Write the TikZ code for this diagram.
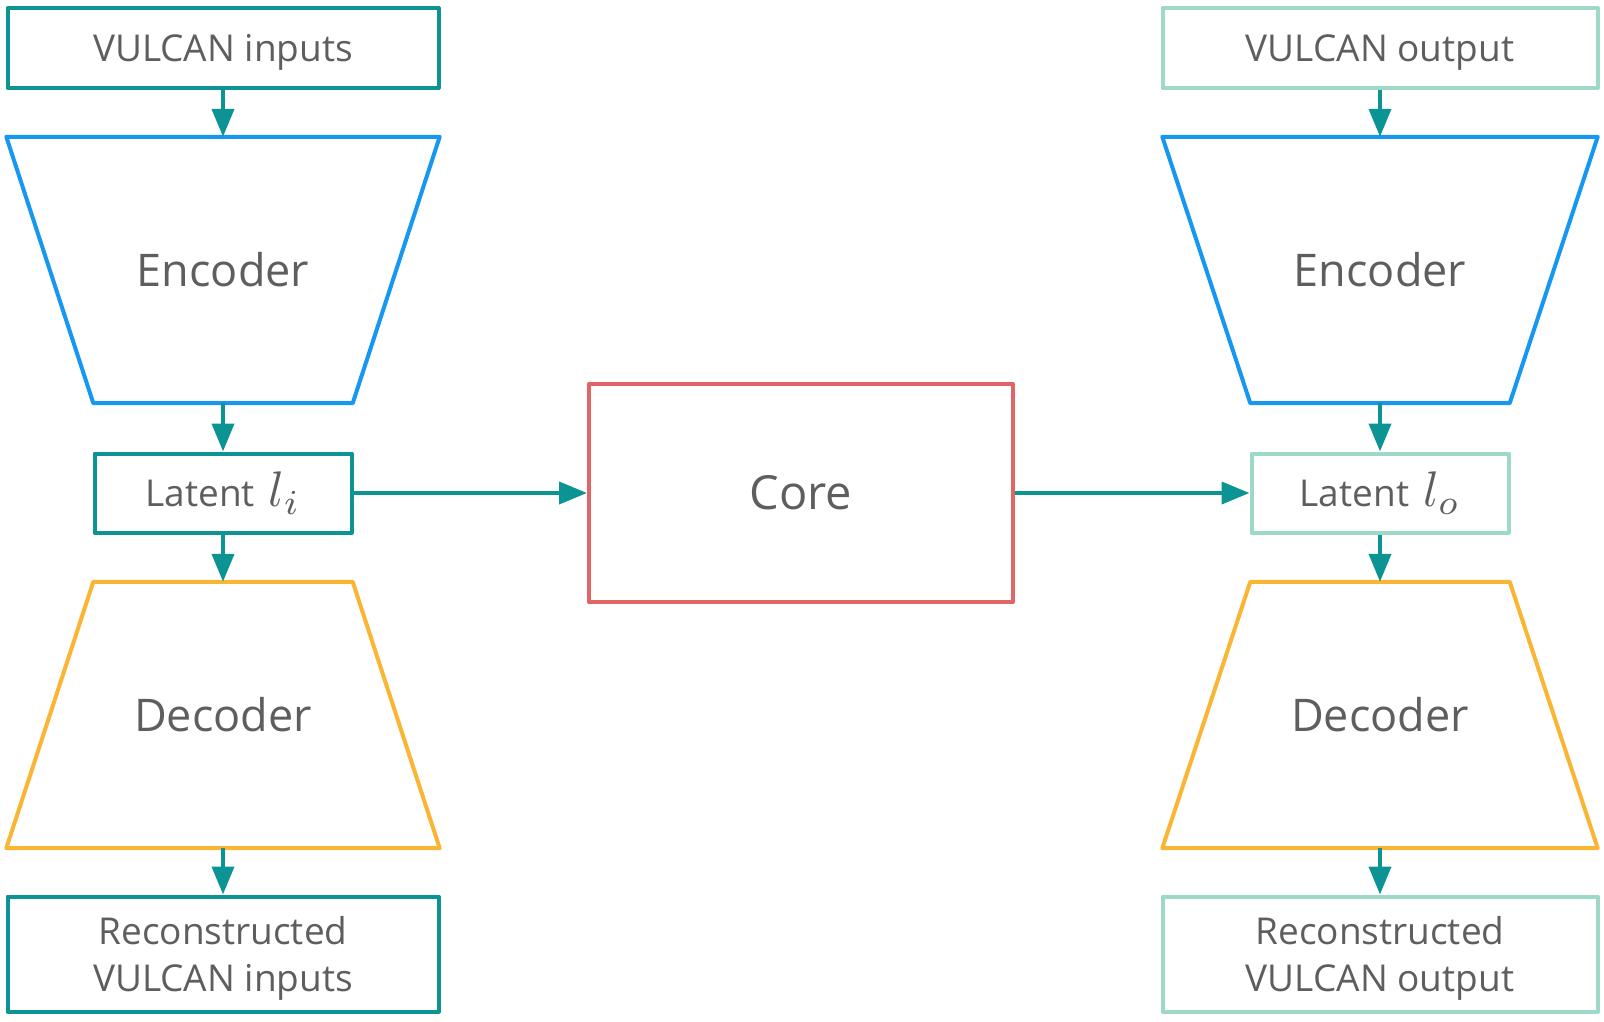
\documentclass[tikz,border=0pt]{standalone}
\usepackage{fontspec}
\setmainfont{Open Sans}
\usetikzlibrary{arrows.meta}
\definecolor{tealline}{HTML}{0C9494}
\definecolor{encblue}{HTML}{1597F2}
\definecolor{decorange}{HTML}{FBB534}
\definecolor{corered}{HTML}{E06666}
\definecolor{mint}{HTML}{9ED8C9}
\definecolor{txtgray}{HTML}{5E5E5E}
\newcommand{\bigmath}[1]{\hspace{14pt}\scalebox{5}{\fontsize{10}{12}\selectfont$#1$}}
\tikzset{
  box/.style={draw, line width=4pt, line join=round, text=txtgray, align=center, inner sep=0pt,
    text height=27pt, text depth=0pt, font=\fontsize{37}{47}\selectfont},
  twoline/.style={text height=74pt},
  bigtext/.style={text=txtgray, inner sep=0pt, font=\fontsize{45}{56}\selectfont},
  shapebox/.style={bigtext, minimum width=433pt, minimum height=266pt},
  outline/.style={line width=4pt, line join=round},
  flow/.style={draw=tealline, line width=4pt, -{Triangle[length=28pt,width=22pt]}},
}
\begin{document}
\begin{tikzpicture}[x=1pt, y=-1pt]
    \useasboundingbox (0,0) rectangle (1604,1022);
    % left column: inputs
    \node[box, draw=tealline, minimum width=431pt, minimum height=80pt] (in) at (223,48) {VULCAN inputs};
    \node[shapebox] (encin) at (223,270) {Encoder};
    \draw[outline, draw=encblue] (encin.north west) -- (encin.north east) -- ([xshift=-87pt]encin.south east) -- ([xshift=87pt]encin.south west) -- cycle;
    \node[box, draw=tealline, minimum width=257pt, minimum height=79pt] (latin) at (223,493) {Latent\bigmath{l_i}};
    \node[shapebox] (decin) at (223,715) {Decoder};
    \draw[outline, draw=decorange] ([xshift=87pt]decin.north west) -- ([xshift=-87pt]decin.north east) -- (decin.south east) -- (decin.south west) -- cycle;
    \node[box, twoline, draw=tealline, minimum width=431pt, minimum height=115pt] (recin) at (223,954) {Reconstructed\\VULCAN inputs};
    % core
    \node[box, draw=corered, minimum width=424pt, minimum height=218pt, text height=33pt, font=\fontsize{47}{56}\selectfont] (core) at (801,493) {Core};
    % right column: output
    \node[box, draw=mint, minimum width=435pt, minimum height=80pt] (out) at (1380,48) {VULCAN output};
    \node[shapebox, minimum width=435pt] (encout) at (1380,270) {Encoder};
    \draw[outline, draw=encblue] (encout.north west) -- (encout.north east) -- ([xshift=-88pt]encout.south east) -- ([xshift=88pt]encout.south west) -- cycle;
    \node[box, draw=mint, minimum width=257pt, minimum height=79pt] (latout) at (1380,493) {Latent\bigmath{l_o}};
    \node[shapebox, minimum width=435pt] (decout) at (1380,715) {Decoder};
    \draw[outline, draw=decorange] ([xshift=88pt]decout.north west) -- ([xshift=-88pt]decout.north east) -- (decout.south east) -- (decout.south west) -- cycle;
    \node[box, twoline, draw=mint, minimum width=435pt, minimum height=115pt] (recout) at (1380,954) {Reconstructed\\VULCAN output};
    % connectors
    \draw[flow] (in) -- (encin.north);
    \draw[flow] (encin.south) -- (latin);
    \draw[flow] (latin) -- (decin.north);
    \draw[flow] (decin.south) -- (recin);
    \draw[flow] (latin) -- (core);
    \draw[flow] (core) -- (latout);
    \draw[flow] (out) -- (encout.north);
    \draw[flow] (encout.south) -- (latout);
    \draw[flow] (latout) -- (decout.north);
    \draw[flow] (decout.south) -- (recout);
\end{tikzpicture}
\end{document}
